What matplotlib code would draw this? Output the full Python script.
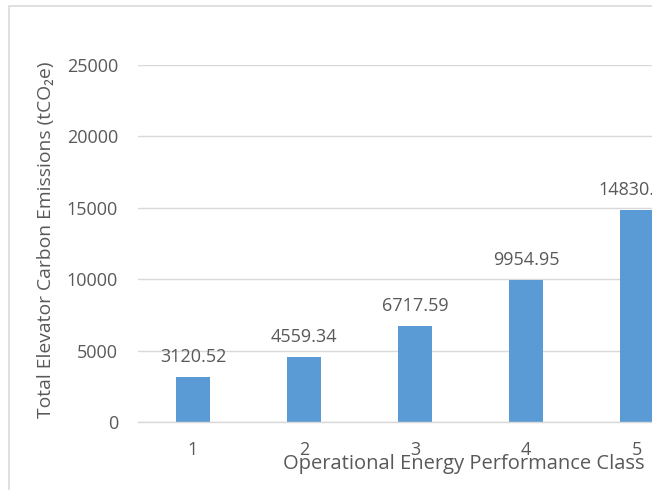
import matplotlib
matplotlib.use("Agg")
import matplotlib.pyplot as plt
from matplotlib.patches import Rectangle

categories = ["1", "2", "3", "4", "5"]
values = [3120.52, 4559.34, 6717.59, 9954.95, 14830.00]
yticks = [0, 5000, 10000, 15000, 20000, 25000]

W, H = 652, 490
TEXT = "#595959"
GRID = "#D9D9D9"
BAR = "#5B9BD5"
FONT = ["Open Sans", "DejaVu Sans"]

plt.rcParams["font.family"] = FONT

fig = plt.figure(figsize=(W / 100, H / 100), dpi=100)
fig.patch.set_facecolor("white")

# outer chart border (cropped at right and bottom)
fig.add_artist(Rectangle((9 / W, -0.1), 1.2, 1.1 - 6 / H, transform=fig.transFigure,
                         fill=False, edgecolor=GRID, linewidth=1.2))

left_px, right_px, top_px, bot_px = 137.5, 692.5, 65, 422
ax = fig.add_axes([left_px / W, (H - bot_px) / H, (right_px - left_px) / W, (bot_px - top_px) / H])
ax.set_facecolor("none")

x = list(range(1, len(categories) + 1))
ax.bar(x, values, width=0.315, color=BAR, zorder=3)
ax.set_xlim(0.5, 5.5)
ax.set_ylim(0, 25000)
ax.set_xticks(x)
ax.set_xticklabels(categories)
ax.set_yticks(yticks)
ax.set_yticklabels([str(t) for t in yticks])
ax.yaxis.grid(True, color=GRID, linewidth=1.0, zorder=0)
ax.tick_params(axis="both", length=0, labelsize=13.0, labelcolor=TEXT)
ax.tick_params(axis="x", pad=14)
ax.tick_params(axis="y", pad=14)
for s in ["top", "right", "left"]:
    ax.spines[s].set_visible(False)
ax.spines["bottom"].set_color(GRID)
ax.spines["bottom"].set_linewidth(1.0)
ax.spines["bottom"].set_zorder(4)

for xi, v in zip(x, values):
    ax.annotate(f"{v:.2f}", (xi, v), xytext=(0, 11), textcoords="offset points",
                ha="center", va="baseline", fontsize=13.0, color=TEXT, annotation_clip=False)

fig.text(464 / W, 1 - 469 / H, "Operational Energy Performance Class", ha="center", va="baseline",
         fontsize=14.5, color=TEXT)
fig.text(46 / W, 1 - 240 / H, "Total Elevator Carbon Emissions (tCO₂e)", ha="center", va="center",
         rotation=90, fontsize=13.9, color=TEXT, family=FONT)

fig.savefig("out.png", dpi=100)
